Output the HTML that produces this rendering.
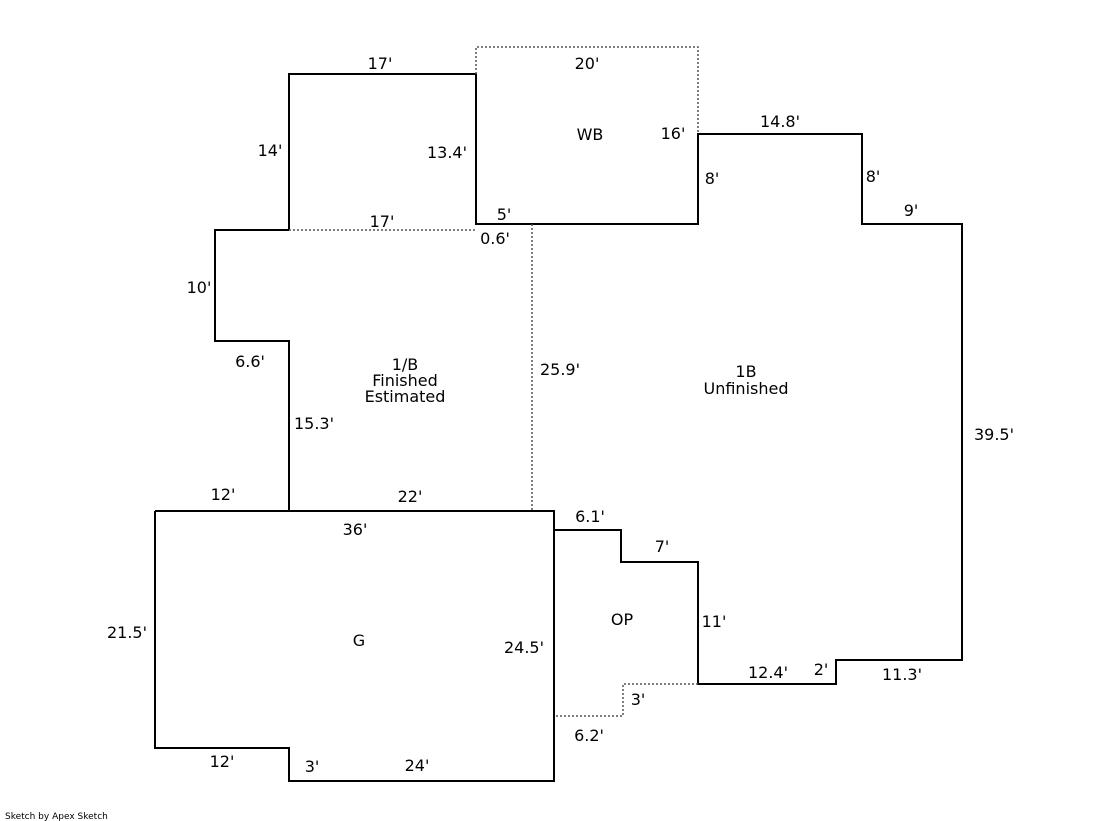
<!DOCTYPE html>
<html><head><style>
html,body{margin:0;padding:0;background:#fff;width:1119px;height:821px;overflow:hidden}
svg text{font-family:"DejaVu Sans","Liberation Sans",sans-serif;font-size:16px;fill:#000}
</style></head><body>
<svg width="1119" height="821" viewBox="0 0 1119 821" xmlns="http://www.w3.org/2000/svg">
<g stroke="#000" stroke-width="2" fill="none">
<polyline points="289,230 289,74 476,74 476,224 698,224 698,134 862,134 862,224 962,224 962,660 836,660 836,684 698,684 698,562 621,562 621,530 554,530"/>
<polyline points="289,230 215,230 215,341 289,341 289,511"/>
<polyline points="155,511 554,511 554,781 289,781 289,748 155,748 155,511"/>
</g>
<g stroke="#555" stroke-width="1.5" fill="none" stroke-dasharray="2,2">
<polyline points="476,74 476,47 698,47 698,134"/>
<line x1="289" y1="230" x2="476" y2="230"/>
<line x1="532" y1="224" x2="532" y2="511"/>
<polyline points="698,684 623,684 623,716 554,716"/>
</g>
<g text-anchor="middle">
<text x="380" y="69">17'</text>
<text x="587" y="69">20'</text>
<text x="590" y="140">WB</text>
<text x="673" y="139">16'</text>
<text x="780" y="127">14.8'</text>
<text x="270" y="156">14'</text>
<text x="447" y="158">13.4'</text>
<text x="712" y="184">8'</text>
<text x="873" y="182">8'</text>
<text x="911" y="216">9'</text>
<text x="382" y="227">17'</text>
<text x="504" y="220">5'</text>
<text x="495" y="244">0.6'</text>
<text x="199" y="293">10'</text>
<text x="250" y="367">6.6'</text>
<text x="405" y="370">1/B</text>
<text x="405" y="386">Finished</text>
<text x="405" y="402">Estimated</text>
<text x="560" y="375">25.9'</text>
<text x="746" y="377">1B</text>
<text x="746" y="394">Unfinished</text>
<text x="314" y="429">15.3'</text>
<text x="994" y="440">39.5'</text>
<text x="223" y="500">12'</text>
<text x="410" y="502">22'</text>
<text x="355" y="535">36'</text>
<text x="590" y="522">6.1'</text>
<text x="662" y="552">7'</text>
<text x="127" y="638">21.5'</text>
<text x="359" y="646">G</text>
<text x="622" y="625">OP</text>
<text x="714" y="627">11'</text>
<text x="524" y="653">24.5'</text>
<text x="768" y="678">12.4'</text>
<text x="821" y="675">2'</text>
<text x="902" y="680">11.3'</text>
<text x="638" y="705">3'</text>
<text x="589" y="741">6.2'</text>
<text x="222" y="767">12'</text>
<text x="312" y="772">3'</text>
<text x="417" y="771">24'</text>
</g>
<text x="5" y="819" style="font-size:9px">Sketch by Apex Sketch</text>
</svg>
</body></html>
